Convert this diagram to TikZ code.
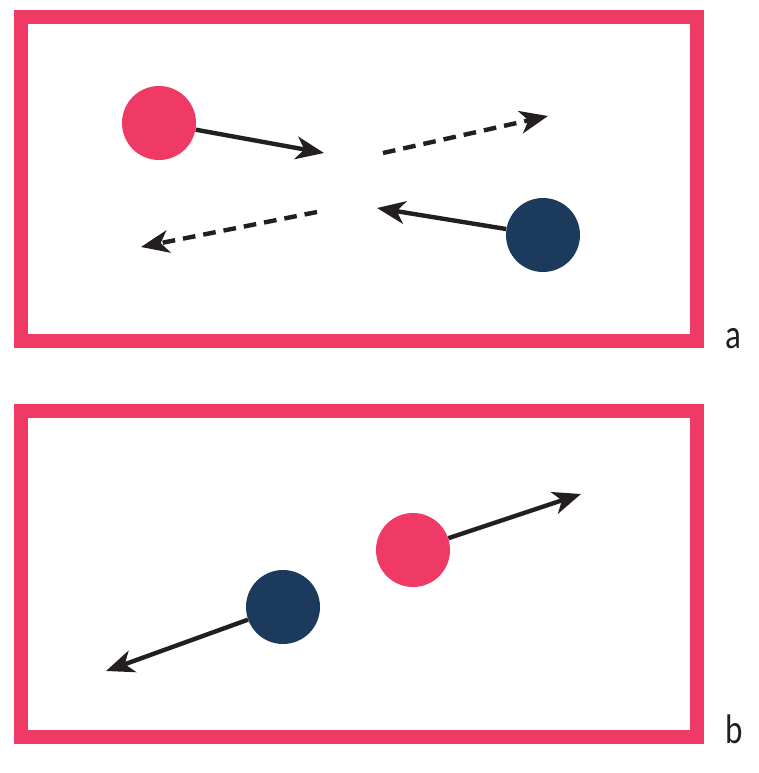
\documentclass[tikz,border=0pt]{standalone}
\usepackage{fontspec}
\setmainfont{Carlito}
\usetikzlibrary{arrows.meta}
\definecolor{fr}{HTML}{EE3A64}
\definecolor{nv}{HTML}{1B3A5C}
\definecolor{ink}{HTML}{231F20}
\tikzset{
  frame/.style={draw=fr, line width=10.5pt},
  ball/.style={circle, inner sep=0pt, minimum size=55.5pt, draw=none},
  redball/.style={ball, fill=fr},
  blueball/.style={ball, fill=nv},
  vec/.style={draw=ink, line width=3.3pt, -{Stealth[length=21pt, width=17pt, inset=6pt]}},
  dvec/.style={vec, dash pattern=on 9.5pt off 6pt},
  lbl/.style={font=\fontsize{31}{31}\selectfont, text=ink, anchor=base west, inner sep=0pt, xscale=0.8}
}
\begin{document}
\begin{tikzpicture}[x=0.75pt, y=-0.75pt]
\useasboundingbox (0,0) rectangle (758,773);
% panel a
\draw[frame] (21,17) rectangle (697,341);
\node[redball] (ra) at (159,123) {};
\node[blueball] (ba) at (543,235) {};
\coordinate (ra-tip) at (324,153);
\coordinate (ba-tip) at (377,208);
\coordinate (da1) at (383,153);
\coordinate (da1-tip) at (548,116);
\coordinate (da2) at (317,212);
\coordinate (da2-tip) at (141,247);
\draw[vec] (ra) -- (ra-tip);
\draw[vec] (ba) -- (ba-tip);
\draw[dvec] (da1) -- (da1-tip);
\draw[dvec] (da2) -- (da2-tip);
\node[lbl] (la) at (725,348) {a};
% panel b
\draw[frame] (21,411) rectangle (697,737);
\node[redball] (rb) at (413,550) {};
\node[blueball] (bb) at (283,607) {};
\coordinate (rb-tip) at (581,494);
\coordinate (bb-tip) at (106,671);
\draw[vec] (rb) -- (rb-tip);
\draw[vec] (bb) -- (bb-tip);
\node[lbl] (lb) at (725,743) {b};
\end{tikzpicture}
\end{document}
